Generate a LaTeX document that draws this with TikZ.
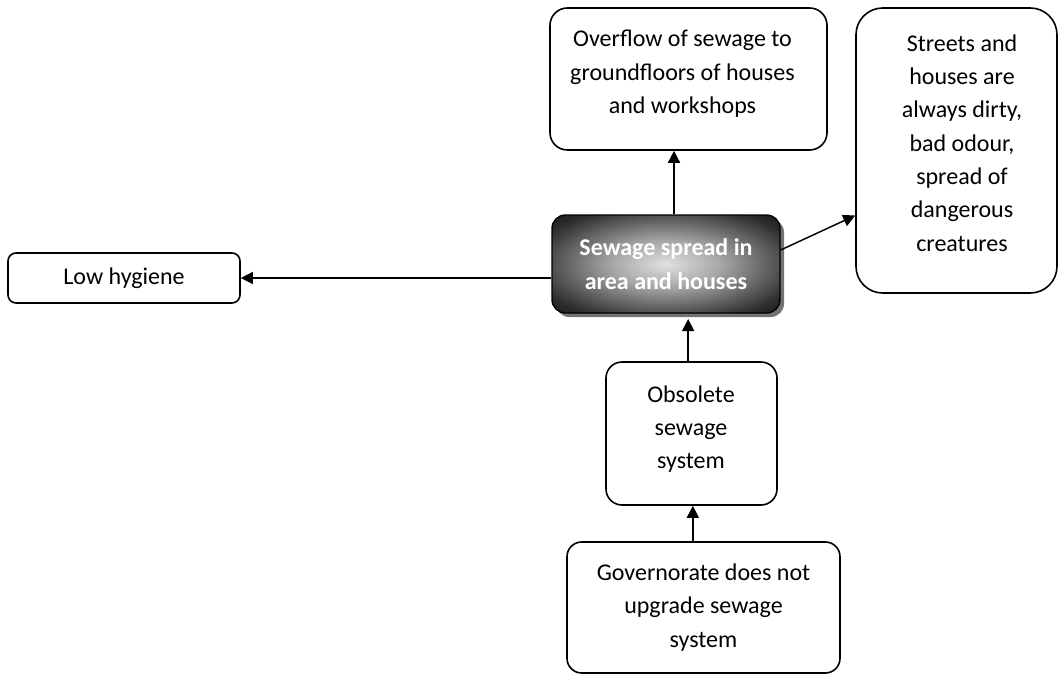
\documentclass[tikz,border=0pt]{standalone}
\usepackage{fontspec}
\setmainfont{Carlito}
\usetikzlibrary{arrows.meta,shadows}

% soft white glow in the middle of the central box, black towards its rim
\pgfdeclareradialshading{glowshade}{\pgfpoint{0bp}{0bp}}{%
  color(0bp)=(black!12); color(12bp)=(black!35); color(30bp)=(black!82);
  color(42bp)=(black); color(50bp)=(black)}

\tikzset{
  box/.style={draw=black, line width=1.2pt, fill=white, inner sep=0pt,
    align=center, font=\fontsize{18}{25}\selectfont},
  txt/.style={inner sep=0pt, align=center, font=\fontsize{18}{25}\selectfont},
  core/.style={line width=1pt, draw=black, shading=glowshade, inner sep=0pt,
    align=center, text=white, font=\fontsize{18}{25.5}\selectfont\bfseries,
    drop shadow={shadow xshift=3pt, shadow yshift=-3pt, fill=black!55, opacity=1}},
  arr/.style={line width=1.1pt, -{Triangle[length=9pt,width=9pt]}}
}

\begin{document}
\begin{tikzpicture}[x=0.75pt, y=-0.75pt]
  \useasboundingbox[fill=white] (0,0) rectangle (1058,675);

  % central problem
  \node[core, rounded corners=10pt, minimum width=171pt, minimum height=73.5pt]
    (core) at (666,264) {Sewage spread in\\area and houses};

  % effects
  \node[box, rounded corners=13pt, minimum width=207.75pt, minimum height=106.5pt]
    (over) at (688.5,79) {};
  \node[txt] (overT) at (682.5,74) {Overflow of sewage to\\groundfloors of houses\\and workshops};

  \node[box, rounded corners=20pt, minimum width=150.75pt, minimum height=213.75pt]
    (streets) at (956.5,150.5) {};
  \node[txt] (streetsT) at (962,143) {Streets and\\houses are\\always dirty,\\bad odour,\\spread of\\dangerous\\creatures};

  \node[box, rounded corners=6pt, minimum width=174pt, minimum height=37.5pt]
    (low) at (124,278) {Low hygiene};

  % causes
  \node[box, rounded corners=12pt, minimum width=128.25pt, minimum height=107.25pt]
    (obs) at (691.5,433.5) {};
  \node[txt] (obsT) at (691,429) {Obsolete\\sewage\\system};

  \node[box, rounded corners=11pt, minimum width=204.75pt, minimum height=98.25pt]
    (gov) at (703.5,607.5) {Governorate does not\\upgrade sewage\\system};

  % connectors
  \draw[arr] ([xshift=6pt]core.north) -- ([xshift=6pt]core.north |- over.south);
  \draw[arr] (core.west |- low.east) -- (low.east);
  \draw[arr] ([yshift=10.5pt]core.east) -- ([yshift=-48.75pt]streets.west);
  \draw[arr] ([xshift=-2.5pt]obs.north) -- ([xshift=-2.5pt,yshift=-4pt]obs.north |- core.south);
  \draw[arr] ([xshift=1pt]obs.south |- gov.north) -- ([xshift=1pt]obs.south);
\end{tikzpicture}
\end{document}
